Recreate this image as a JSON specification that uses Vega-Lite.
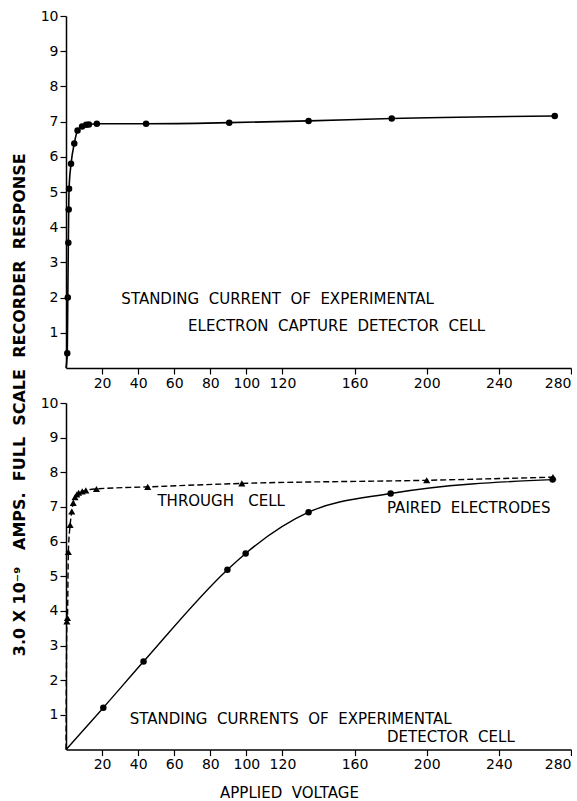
{
  "$schema": "https://vega.github.io/schema/vega-lite/v6.json",
  "background": "white",
  "padding": {"left": 12, "top": 9, "right": 0, "bottom": 0},
  "spacing": 6,
  "config": {
    "font": "DejaVu Sans",
    "view": {"stroke": null},
    "axis": {
      "domainColor": "black", "tickColor": "black", "labelColor": "black", "titleColor": "black",
      "grid": false, "domainWidth": 1.5, "tickWidth": 1.2, "tickSize": 6,
      "labelFontSize": 14, "labelFont": "DejaVu Sans", "labelPadding": 2,
      "titleFont": "DejaVu Sans", "titleFontSize": 15, "titleFontWeight": "normal", "titlePadding": 14
    }
  },
  "title": {
    "text": "3.0\u00a0X\u00a010⁻⁹\u00a0\u00a0\u00a0AMPS.\u00a0\u00a0FULL\u00a0\u00a0SCALE\u00a0\u00a0RECORDER\u00a0\u00a0RESPONSE",
    "orient": "left", "anchor": "middle", "fontSize": 16, "fontWeight": "bold",
    "font": "DejaVu Sans", "color": "black", "offset": 12
  },
  "datasets": {
    "top": [
      {"v": 0, "r": 0, "m": 0},
      {"v": 0.7, "r": 0.42, "m": 1},
      {"v": 1.0, "r": 2.0, "m": 1},
      {"v": 1.3, "r": 3.56, "m": 1},
      {"v": 1.5, "r": 4.5, "m": 1},
      {"v": 1.7, "r": 5.09, "m": 1},
      {"v": 2.8, "r": 5.8, "m": 1},
      {"v": 4.6, "r": 6.38, "m": 1},
      {"v": 6.4, "r": 6.75, "m": 1},
      {"v": 8.9, "r": 6.86, "m": 1},
      {"v": 11.2, "r": 6.91, "m": 1},
      {"v": 12.7, "r": 6.92, "m": 1},
      {"v": 17.1, "r": 6.94, "m": 1},
      {"v": 44.4, "r": 6.94, "m": 1},
      {"v": 90.5, "r": 6.97, "m": 1},
      {"v": 134.5, "r": 7.02, "m": 1},
      {"v": 180.6, "r": 7.09, "m": 1},
      {"v": 271, "r": 7.16, "m": 1}
    ],
    "through": [
      {"v": 0, "r": 0, "m": 0},
      {"v": 0.5, "r": 3.7, "m": 1},
      {"v": 0.8, "r": 3.8, "m": 1},
      {"v": 1.3, "r": 5.7, "m": 1},
      {"v": 2.3, "r": 6.48, "m": 1},
      {"v": 3.2, "r": 6.87, "m": 1},
      {"v": 4.0, "r": 7.12, "m": 1},
      {"v": 5.0, "r": 7.28, "m": 1},
      {"v": 6.0, "r": 7.36, "m": 1},
      {"v": 7.0, "r": 7.41, "m": 1},
      {"v": 9.0, "r": 7.45, "m": 1},
      {"v": 11.0, "r": 7.48, "m": 1},
      {"v": 16.9, "r": 7.52, "m": 1},
      {"v": 45.3, "r": 7.58, "m": 1},
      {"v": 97.5, "r": 7.68, "m": 1},
      {"v": 200, "r": 7.77, "m": 1},
      {"v": 270, "r": 7.86, "m": 1}
    ],
    "paired": [
      {"v": 0, "r": 0, "m": 0},
      {"v": 20.7, "r": 1.21, "m": 1},
      {"v": 43, "r": 2.54, "m": 1},
      {"v": 89.5, "r": 5.19, "m": 1},
      {"v": 99.6, "r": 5.66, "m": 1},
      {"v": 134.5, "r": 6.85, "m": 1},
      {"v": 180, "r": 7.39, "m": 1},
      {"v": 269.8, "r": 7.79, "m": 1}
    ],
    "labelsTop": [
      {"v": 30.7, "r": 1.95, "t": "STANDING\u00a0\u00a0CURRENT\u00a0\u00a0OF\u00a0\u00a0EXPERIMENTAL"},
      {"v": 67.7, "r": 1.2, "t": "ELECTRON\u00a0\u00a0CAPTURE\u00a0\u00a0DETECTOR\u00a0\u00a0CELL"}
    ],
    "labelsBottom": [
      {"v": 50.7, "r": 7.18, "t": "THROUGH\u00a0\u00a0\u00a0CELL"},
      {"v": 178, "r": 6.96, "t": "PAIRED\u00a0\u00a0ELECTRODES"},
      {"v": 35.3, "r": 0.87, "t": "STANDING\u00a0\u00a0CURRENTS\u00a0\u00a0OF\u00a0\u00a0EXPERIMENTAL"},
      {"v": 178, "r": 0.375, "t": "DETECTOR\u00a0\u00a0CELL"}
    ]
  },
  "vconcat": [
    {
      "width": 505,
      "height": 352,
      "encoding": {
        "x": {"field": "v", "type": "quantitative", "scale": {"domain": [0, 280], "nice": false},
              "axis": {"values": [20, 40, 60, 80, 100, 120, 160, 200, 240, 280], "title": null}},
        "y": {"field": "r", "type": "quantitative", "scale": {"domain": [0, 10], "nice": false},
              "axis": {"values": [1, 2, 3, 4, 5, 6, 7, 8, 9, 10], "title": null}}
      },
      "layer": [
        {"data": {"name": "top"}, "mark": {"type": "line", "color": "black", "strokeWidth": 1.6, "interpolate": "monotone"}},
        {"data": {"name": "top"}, "transform": [{"filter": "datum.m == 1"}],
         "mark": {"type": "point", "shape": "circle", "filled": true, "color": "black", "opacity": 1, "size": 42}},
        {"data": {"name": "labelsTop"}, "mark": {"type": "text", "align": "left", "baseline": "middle", "fontSize": 15, "color": "black", "font": "DejaVu Sans"},
         "encoding": {"text": {"field": "t"}}}
      ]
    },
    {
      "width": 505,
      "height": 346.6,
      "encoding": {
        "x": {"field": "v", "type": "quantitative", "scale": {"domain": [0, 280], "nice": false},
              "axis": {"values": [20, 40, 60, 80, 100, 120, 160, 200, 240, 280], "title": "APPLIED\u00a0\u00a0VOLTAGE", "titleX": 223, "titleAlign": "center"}},
        "y": {"field": "r", "type": "quantitative", "scale": {"domain": [0, 10], "nice": false},
              "axis": {"values": [1, 2, 3, 4, 5, 6, 7, 8, 9, 10], "title": null}}
      },
      "layer": [
        {"data": {"name": "through"}, "mark": {"type": "line", "color": "black", "strokeWidth": 1.4, "strokeDash": [6, 3], "interpolate": "monotone"}},
        {"data": {"name": "through"}, "transform": [{"filter": "datum.m == 1"}],
         "mark": {"type": "point", "shape": "triangle-up", "filled": true, "color": "black", "opacity": 1, "size": 50}},
        {"data": {"name": "paired"}, "mark": {"type": "line", "color": "black", "strokeWidth": 1.4, "interpolate": "monotone"}},
        {"data": {"name": "paired"}, "transform": [{"filter": "datum.m == 1"}],
         "mark": {"type": "point", "shape": "circle", "filled": true, "color": "black", "opacity": 1, "size": 42}},
        {"data": {"name": "labelsBottom"}, "mark": {"type": "text", "align": "left", "baseline": "middle", "fontSize": 15, "color": "black", "font": "DejaVu Sans"},
         "encoding": {"text": {"field": "t"}}}
      ]
    }
  ]
}
